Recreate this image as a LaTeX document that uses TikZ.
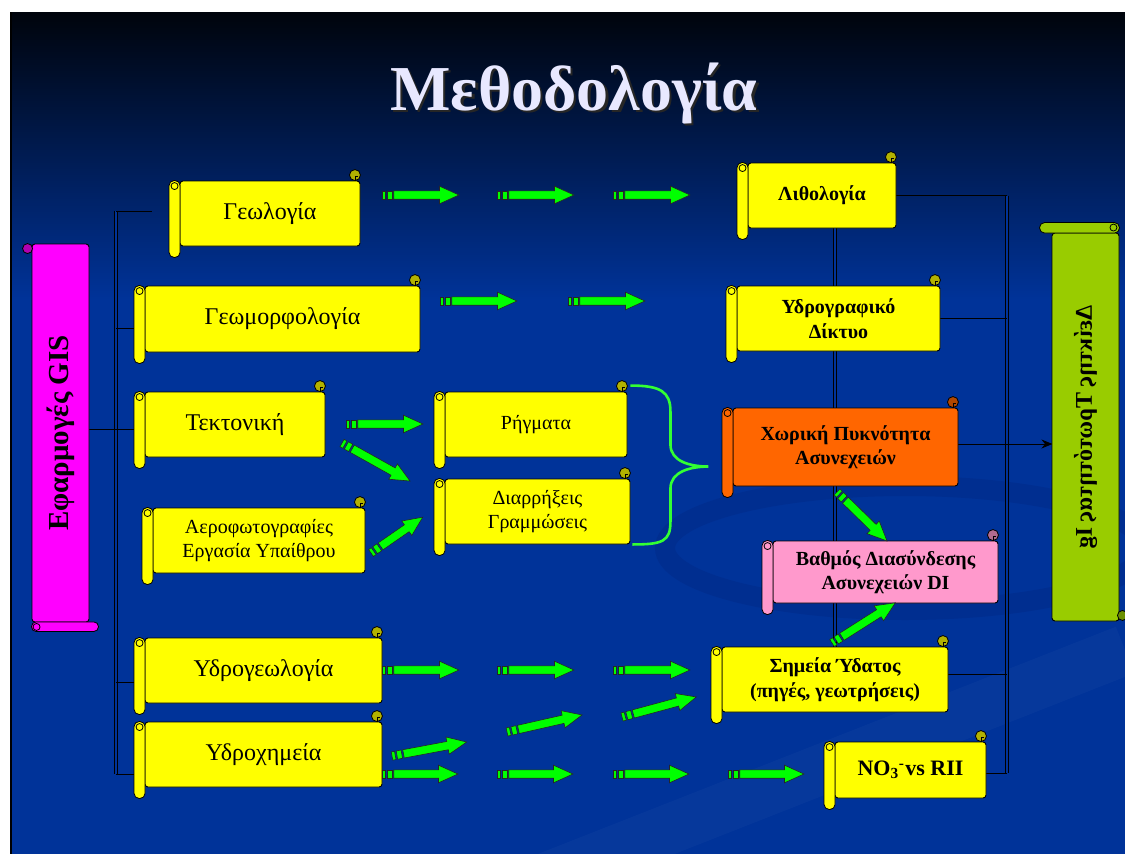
\documentclass[tikz,border=0pt]{standalone}
\usepackage{fontspec}
\setmainfont{Liberation Serif}
\usepackage{graphicx}
\usepackage{tikz}
\usetikzlibrary{arrows.meta}

\definecolor{slideblue}{HTML}{003399}
\definecolor{slidemid}{HTML}{0A2266}
\definecolor{slidetop}{HTML}{00040C}
\definecolor{swirldark}{HTML}{002E90}
\definecolor{scrollyellow}{HTML}{FFFF00}
\definecolor{scrollmagenta}{HTML}{FF00FF}
\definecolor{scrollorange}{HTML}{FF6600}
\definecolor{scrollpink}{HTML}{FF99CC}
\definecolor{scrollgreen}{HTML}{99CC00}
\definecolor{arrowgreen}{HTML}{00FF00}
\definecolor{bracegreen}{HTML}{33FF33}
\definecolor{titlewhite}{HTML}{E8E8FF}

\pgfdeclarelayer{bg}
\pgfdeclarelayer{wires}
\pgfsetlayers{bg,wires,main}

\tikzset{
  scroll/.style={draw=black, line width=0.9pt, fill=#1, rounded corners=3pt, minimum height=65pt, inner sep=2pt, align=center},
  plain text/.style={font=\fontsize{24}{28}\selectfont},
  small text/.style={font=\fontsize{20}{24.5}\selectfont},
  bold text/.style={font=\fontsize{20}{24.5}\selectfont\bfseries},
  title text/.style={font=\fontsize{64}{64}\selectfont\bfseries, anchor=base},
  rollline/.style={draw=black, line width=0.8pt},
  trunk/.style={draw=black, line width=0.7pt, double=slideblue, double distance=2pt},
  branch/.style={draw=black, line width=0.9pt},
  arrowpart/.style={draw=black!85, line width=0.6pt, fill=arrowgreen},
  pics/greenarrow/.style={code={
    \draw[arrowpart] (0pt,-4.2pt) rectangle (3.3pt,4.2pt);
    \draw[arrowpart] (5pt,-4.2pt) rectangle (10pt,4.2pt);
    \draw[arrowpart] (11.7pt,-4.2pt) -- ({#1pt-19.5pt},-4.2pt) -- ({#1pt-19.5pt},-8.8pt)
      -- (#1pt,0pt) -- ({#1pt-19.5pt},8.8pt) -- ({#1pt-19.5pt},4.2pt) -- (11.7pt,4.2pt) -- cycle;
  }}
}

\begin{document}
\begin{tikzpicture}[x=1pt, y=-1pt]
\useasboundingbox (0,0) rectangle (1125,854);

\begin{pgfonlayer}{bg}
\fill[white] (0,0) rectangle (1125,854);
\shade[top color=slidetop, middle color=slidemid, bottom color=slideblue] (10,12) rectangle (1125,300);
\fill[slideblue] (10,299) rectangle (1125,854);
\draw[swirldark, line width=20pt] (905,548) ellipse [x radius=240, y radius=62];
\draw[slideblue!85!white, opacity=0.18, line width=50pt] (540,880) -- (1125,650);
\draw[black, line width=1.5pt] (10.75,12) -- (10.75,854);
\end{pgfonlayer}

\node[title text, text=black!85] (titleshadow) at (576.5,112.5) {Μεθοδολογία};
\node[title text, text=titlewhite] (title) at (574,110) {Μεθοδολογία};

\node[scroll=scrollmagenta, minimum width=57pt, minimum height=378pt, font=\fontsize{29}{30}\selectfont\bfseries] (gis) at (60.5,433) {\rotatebox{90}{Εφαρμογές GIS}};
\node[scroll=scrollgreen, minimum width=67pt, minimum height=388pt, font=\fontsize{24}{26}\selectfont\bfseries] (deiktis) at (1085.5,427) {\reflectbox{\rotatebox{-90}{Δείκτης Τρωτότητας Ig}}};

\node[scroll=scrollyellow, minimum width=180pt, plain text] (geo) at (270,213.5) {Γεωλογία};
\node[scroll=scrollyellow, minimum width=275pt, minimum height=66pt, plain text] (geomorf) at (282.5,319) {Γεωμορφολογία};
\node[scroll=scrollyellow, minimum width=180pt, plain text] (tekt) at (235,424.5) {Τεκτονική};
\node[scroll=scrollyellow, minimum width=212pt, small text] (aero) at (259,540.5) {Αεροφωτογραφίες\\Εργασία Υπαίθρου};
\node[scroll=scrollyellow, minimum width=237pt, plain text] (ydrogeo) at (263.5,670.5) {Υδρογεωλογία};
\node[scroll=scrollyellow, minimum width=237pt, plain text] (ydrochem) at (263.5,754.5) {Υδροχημεία};
\node[scroll=scrollyellow, minimum width=182pt, small text] (rigmata) at (536,424.5) {Ρήγματα};
\node[scroll=scrollyellow, minimum width=185pt, small text] (diarr) at (537.5,511.5) {Διαρρήξεις\\Γραμμώσεις};
\node[scroll=scrollyellow, minimum width=148pt, bold text] (litho) at (822,195.5) {Λιθολογία};
\node[scroll=scrollyellow, minimum width=203pt, bold text] (ydrograf) at (838.5,318.5) {Υδρογραφικό\\Δίκτυο};
\node[scroll=scrollorange, minimum width=225pt, minimum height=78pt, bold text] (xoriki) at (845.5,447) {Χωρική Πυκνότητα\\Ασυνεχειών};
\node[scroll=scrollpink, minimum width=225pt, minimum height=62pt, bold text] (vathmos) at (885.5,572) {Βαθμός Διασύνδεσης\\Ασυνεχειών DI};
\node[scroll=scrollyellow, minimum width=226pt, bold text] (simeia) at (835,679.5) {Σημεία Ύδατος\\(πηγές, γεωτρήσεις)};
\node[scroll=scrollyellow, minimum width=151pt, minimum height=56pt, font=\fontsize{22}{26}\selectfont\bfseries] (no3) at (910.5,770) {NO\textsubscript{3}\textsuperscript{-}\kern1pt vs RII};

\foreach \nd/\cl in {geo/scrollyellow, geomorf/scrollyellow, tekt/scrollyellow, aero/scrollyellow,
  ydrogeo/scrollyellow, ydrochem/scrollyellow, rigmata/scrollyellow, diarr/scrollyellow,
  litho/scrollyellow, ydrograf/scrollyellow, xoriki/scrollorange, vathmos/scrollpink,
  simeia/scrollyellow, no3/scrollyellow}{
  \draw[rollline, fill=\cl, rounded corners=5pt] ([xshift=-10.5pt]\nd.north west) rectangle ([xshift=0.5pt,yshift=-11pt]\nd.south west);
  \draw[rollline] ([xshift=-5pt,yshift=-5.5pt]\nd.north west) circle (3.5pt);
  \draw[rollline, fill=\cl!70!black] ([xshift=-5.5pt,yshift=5.5pt]\nd.north east) circle (5.5pt);
  \draw[rollline] ([xshift=-5.5pt]\nd.north east) -- ++(0pt,4pt) -- ++(3pt,0pt);
}

\draw[rollline, fill=scrollmagenta!70!black] ([xshift=-4pt,yshift=-5pt]gis.north west) circle (5pt);
\draw[rollline, fill=scrollmagenta, rounded corners=4.5pt] ([yshift=0.5pt]gis.south west) rectangle ([xshift=9pt,yshift=-9pt]gis.south east);
\draw[rollline] ([xshift=5pt,yshift=-4.5pt]gis.south west) circle (3.5pt);
\draw[rollline, fill=scrollgreen, rounded corners=5pt] ([xshift=-12pt,yshift=10pt]deiktis.north west) rectangle ([yshift=-0.5pt]deiktis.north east);
\draw[rollline] ([xshift=-6pt,yshift=5pt]deiktis.north east) circle (3.5pt);
\draw[rollline, fill=scrollgreen!70!black] ([xshift=3pt,yshift=6pt]deiktis.south east) circle (5pt);

\coordinate (ltop) at (116,211);
\coordinate (lbot) at (116,774);
\coordinate (geostub) at (152,211);
\coordinate (rtop) at (1007,195.5);
\coordinate (rbot) at (1007,773);

\begin{pgfonlayer}{wires}
\draw[trunk] (ltop) -- (lbot);
\draw[branch] (ltop) -- (geostub);
\draw[branch] ([yshift=-9pt]geomorf.west) -- ++(-29,0);
\draw[branch] ([yshift=-4.5pt]tekt.west) -- ++(-56,0);
\draw[branch] ([yshift=-11.5pt]ydrogeo.west) -- ++(-29,0);
\draw[branch] ([yshift=-19.5pt]ydrochem.west) -- ++(-29,0);
\draw[trunk] (rtop) -- (rbot);
\draw[branch] (litho.east) -- (litho.east -| rtop);
\draw[branch] (ydrograf.east) -- (ydrograf.east -| rtop);
\draw[branch] ([yshift=5.5pt]simeia.east) -- ++(59,0);
\draw[branch] ([yshift=-3pt]no3.east) -- ++(21,0);
\draw[trunk] (litho.south -| simeia.north) -- (simeia.north);
\draw[branch, -{Stealth[length=11pt,width=9pt]}] ([yshift=3pt]xoriki.east) -- ++(94,0);
\end{pgfonlayer}

\draw[bracegreen, line width=2.6pt] ([xshift=3pt,yshift=6pt]rigmata.north east)
  .. controls +(30,0) and +(0,-20) .. ++(40,26) -- ++(0,33)
  .. controls +(0,17) and +(-18,0) .. ++(38,22)
  .. controls +(-18,0) and +(0,-17) .. ++(-38,22) -- ++(0,33)
  .. controls +(0,20) and +(30,0) .. ([xshift=2pt]diarr.south east);

\foreach \ax in {382,497,613} \pic at (\ax,195) {greenarrow=77};
\foreach \ax in {440,568} \pic at (\ax,301) {greenarrow=77};
\pic at (346,424) {greenarrow=77};
\pic[rotate=-29.2] at (342,443) {greenarrow=78};
\pic[rotate=34.7] at (371,553) {greenarrow=63};
\foreach \ax in {382,497,613} \pic at (\ax,670) {greenarrow=77};
\foreach \ax in {382,497,613,728} \pic at (\ax,774) {greenarrow=76};
\pic[rotate=10.6] at (392,756) {greenarrow=76};
\pic[rotate=12.8] at (507,732) {greenarrow=77};
\pic[rotate=15.1] at (622,717) {greenarrow=77};
\pic[rotate=-44.4] at (837,492) {greenarrow=70};
\pic[rotate=32.4] at (832,643) {greenarrow=75};
\end{tikzpicture}
\end{document}
